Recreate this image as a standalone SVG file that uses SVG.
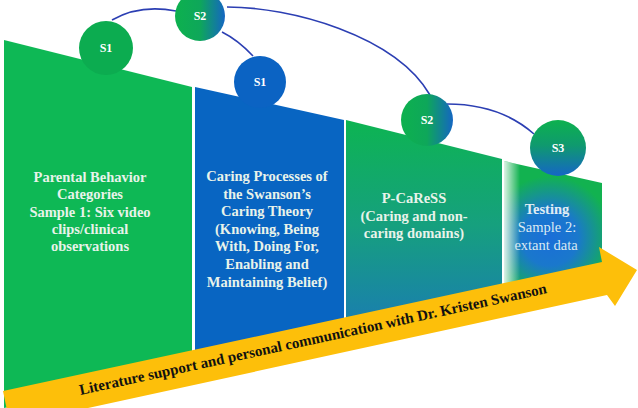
<svg xmlns="http://www.w3.org/2000/svg" width="638" height="408" viewBox="0 0 638 408">
<style>
.pt{font-family:"Liberation Serif","Times New Roman",serif;font-size:14.5px;font-weight:bold;fill:#e8f3ea;text-anchor:middle}
.pr{font-family:"Liberation Serif","Times New Roman",serif;font-size:14.5px;fill:#dbe9f2;text-anchor:middle}
.cl{font-family:"Liberation Serif","Times New Roman",serif;font-size:12px;font-weight:bold;fill:#ffffff;text-anchor:middle}
.ln{fill:none;stroke:#2c3fb3;stroke-width:1.6}
.at{font-family:"Liberation Serif","Times New Roman",serif;font-size:15px;font-weight:bold;fill:#111111;text-anchor:middle}
</style>
<defs>
<linearGradient id="g3" x1="0" y1="120" x2="0" y2="330" gradientUnits="userSpaceOnUse">
<stop offset="0" stop-color="#0db452"/>
<stop offset="0.5" stop-color="#16a07e"/>
<stop offset="1" stop-color="#1a7cb2"/>
</linearGradient>
<radialGradient id="g4" cx="550" cy="238" r="62" gradientUnits="userSpaceOnUse">
<stop offset="0" stop-color="#1a6ed8"/>
<stop offset="0.45" stop-color="#1a78cc"/>
<stop offset="1" stop-color="#12b250"/>
</radialGradient>
<linearGradient id="g4w" x1="504" y1="0" x2="520" y2="0" gradientUnits="userSpaceOnUse">
<stop offset="0" stop-color="#ffffff" stop-opacity="0.85"/>
<stop offset="1" stop-color="#ffffff" stop-opacity="0"/>
</linearGradient>
<linearGradient id="cS2" x1="0" y1="0" x2="1" y2="0">
<stop offset="0" stop-color="#0db14e"/>
<stop offset="0.5" stop-color="#0ea75a"/>
<stop offset="1" stop-color="#1466c2"/>
</linearGradient>
<linearGradient id="cS3" x1="0" y1="0" x2="0" y2="1">
<stop offset="0" stop-color="#0db14e"/>
<stop offset="0.45" stop-color="#0f9a6e"/>
<stop offset="1" stop-color="#1566c6"/>
</linearGradient>
</defs>
<rect width="638" height="408" fill="#ffffff"/>

<g id="panel1">
<polygon points="4,40 192,87 192,367 4,408" fill="#0eb855"/>
<text class="pt" x="90" y="182">Parental Behavior</text>
<text class="pt" x="90" y="199">Categories</text>
<text class="pt" x="90" y="216.5">Sample 1: Six video</text>
<text class="pt" x="90" y="234">clips/clinical</text>
<text class="pt" x="90" y="251">observations</text>
</g>

<g id="panel2">
<polygon points="195,87 344,120 344,335 195,367" fill="#0865c2"/>
<text class="pt" x="267" y="181">Caring Processes of</text>
<text class="pt" x="267" y="198.6">the Swanson’s</text>
<text class="pt" x="267" y="216.2">Caring Theory</text>
<text class="pt" x="267" y="233.8">(Knowing, Being</text>
<text class="pt" x="267" y="251.4">With, Doing For,</text>
<text class="pt" x="267" y="269">Enabling and</text>
<text class="pt" x="267" y="286.6">Maintaining Belief)</text>
</g>

<g id="panel3">
<polygon points="346,120 502,159 502,301 346,334" fill="url(#g3)"/>
<text class="pt" x="414" y="203">P-CaReSS</text>
<text class="pt" x="414" y="220.5">(Caring and non-</text>
<text class="pt" x="414" y="238">caring domains)</text>
</g>

<g id="panel4">
<polygon points="504,161 602,183 602,280 504,300" fill="url(#g4)"/>
<polygon points="504,161 602,183 602,280 504,300" fill="url(#g4w)"/>
<text class="pt" x="547" y="214" style="fill:#e0ecf4">Testing</text>
<text class="pr" x="547" y="232">Sample 2:</text>
<text class="pr" x="546" y="249.5">extant data</text>
</g>

<g id="arrow">
<polygon points="3,391 602,262 599,247 637,270 615,306 607,295 10,425" fill="#fdbf0a"/>
<text class="at" x="314" y="344" transform="rotate(-12.3 314 344)">Literature support and personal communication with Dr. Kristen Swanson</text>
</g>

<g id="connectors">
<path class="ln" d="M112,20 Q140,4 176,11"/>
<path class="ln" d="M227,7 C290,7 395,35 430,95"/>
<path class="ln" d="M222,32 Q238,40 253,56"/>
<path class="ln" d="M447,104 Q500,104 534,134"/>
</g>

<g id="s1a">
<circle cx="106" cy="48" r="27" fill="#0cac50"/>
<text class="cl" x="106" y="52">S1</text>
</g>
<g id="s2a">
<circle cx="200" cy="16" r="25" fill="url(#cS2)"/>
<text class="cl" x="200" y="20">S2</text>
</g>
<g id="s1b">
<circle cx="260" cy="82" r="26" fill="#0b63c3"/>
<text class="cl" x="260" y="86">S1</text>
</g>
<g id="s2b">
<circle cx="427" cy="120" r="26" fill="url(#cS2)"/>
<text class="cl" x="427" y="124">S2</text>
</g>
<g id="s3">
<circle cx="558" cy="148" r="28" fill="url(#cS3)"/>
<text class="cl" x="558" y="152">S3</text>
</g>
</svg>
